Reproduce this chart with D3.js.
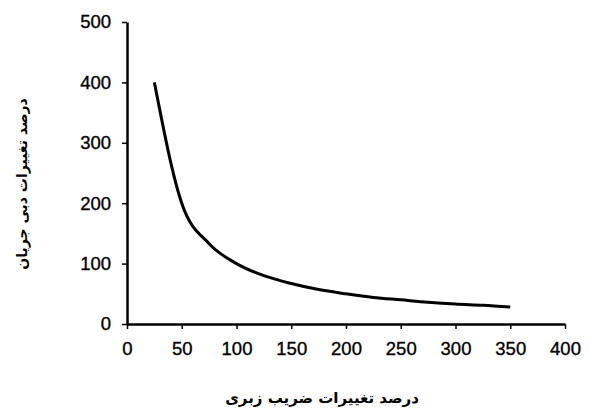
<!DOCTYPE html>
<html><head><meta charset="utf-8">
<script src="https://cdn.jsdelivr.net/npm/d3@7"></script>
<style>
body{margin:0;background:#fff;}
svg{display:block;}
.tick text{font-family:"Liberation Sans",Arial,sans-serif;font-size:18.5px;fill:#000;stroke:#000;stroke-width:0.35px;}
</style></head>
<body>
<svg id="chart" width="590" height="412"></svg>
<script>
const xValues = [25, 50, 75, 100, 125, 150, 175, 200, 225, 250, 275, 300, 325, 350];
const yValues = [400, 200, 133, 100, 80, 67, 57, 50, 44, 40, 36, 33, 31, 28];
const xTicks = [0, 50, 100, 150, 200, 250, 300, 350, 400];
const yTicks = [0, 100, 200, 300, 400, 500];
const xTitle = "درصد تغییرات ضریب زبری";
const yTitle = "درصد تغییرات دبی جریان";

const svg = d3.select("#chart");
const m = {left:127, top:22, right:25, bottom:88};
const W = 590 - m.left - m.right, H = 412 - m.top - m.bottom;
const g = svg.append("g").attr("transform", `translate(${m.left},${m.top})`);
const x = d3.scaleLinear().domain([0,400]).range([0,W]);
const y = d3.scaleLinear().domain([0,500]).range([H,0]);

const xa = g.append("g").attr("transform",`translate(0,${H})`)
  .call(d3.axisBottom(x).tickValues(xTicks).tickSize(5).tickPadding(13).tickSizeOuter(0));
const ya = g.append("g")
  .call(d3.axisLeft(y).tickValues(yTicks).tickSize(5).tickPadding(11).tickSizeOuter(0));
[xa,ya].forEach(a=>{
  a.select(".domain").attr("stroke","#000").attr("stroke-width",2.5);
  a.selectAll(".tick line").attr("stroke","#000").attr("stroke-width",1.5);
});

const data = xValues.map((v,i)=>[v,yValues[i]]);
g.append("path").datum(data)
  .attr("fill","none").attr("stroke","#000").attr("stroke-width",3)
  .attr("d", d3.line().x(d=>x(d[0])).y(d=>y(d[1])).curve(d3.curveMonotoneX));

svg.append("text").attr("x", 322).attr("y", 403)
  .attr("text-anchor","middle").attr("direction","rtl")
  .style("font-family","'DejaVu Sans','Noto Sans',sans-serif").style("font-weight","bold").style("font-size","15px")
  .text(xTitle);
svg.append("text").attr("transform","translate(27,184) rotate(-90)")
  .attr("text-anchor","middle").attr("direction","rtl")
  .style("font-family","'DejaVu Sans','Noto Sans',sans-serif").style("font-weight","bold").style("font-size","14px")
  .text(yTitle);
</script>
</body></html>
